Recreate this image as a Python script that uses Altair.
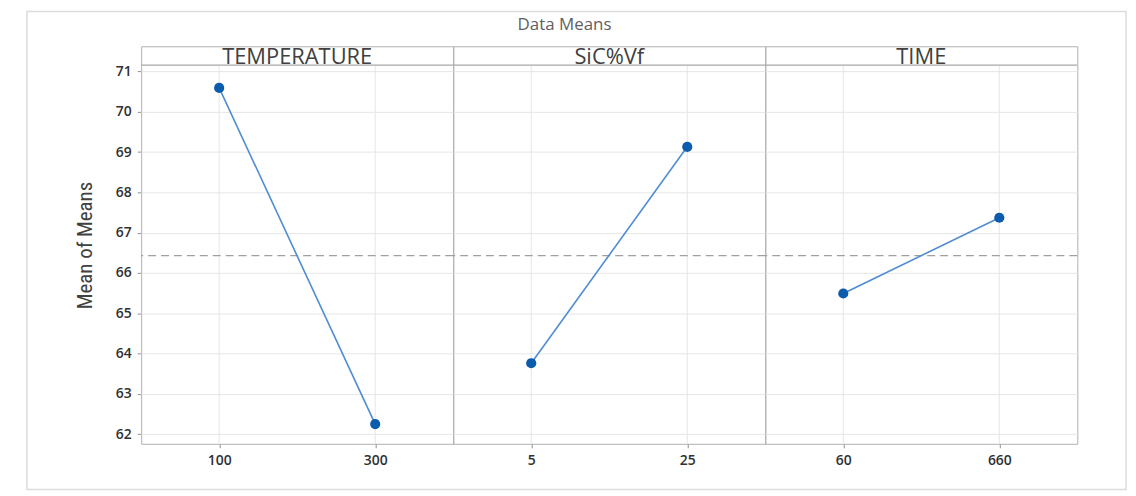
import altair as alt
import pandas as pd

# ---- data ----
factors = ["TEMPERATURE", "SiC%Vf", "TIME"]
levels = [["100", "300"], ["5", "25"], ["60", "660"]]
means = [[70.59, 62.25], [63.76, 69.13], [65.49, 67.37]]
y_ticks = [62, 63, 64, 65, 66, 67, 68, 69, 70, 71]

rows = []
for f, lv, mv in zip(factors, levels, means):
    for i, (l, m) in enumerate(zip(lv, mv)):
        rows.append({"factor": f, "level": l, "mean": m, "first": i == 0})
df = pd.DataFrame(rows)
df["grand"] = df["mean"].mean()
df["frame"] = (df["factor"] == factors[0]) & df["first"]

level_order = [l for lv in levels for l in lv]

Y_MIN, Y_MAX = 61.761, 71.624
HEAD_LINE = 71.155
HEAD_TEXT = 71.18
W, H = 314, 400

yscale = alt.Scale(domain=[Y_MIN, Y_MAX], nice=False, zero=False)
y_axis = alt.Axis(
    title="Mean of Means", values=y_ticks, grid=True, gridColor="#e6e6e6",
    domain=False, tickSize=4, tickColor="#909090",
    labelFont="Open Sans", labelFontSize=14, labelFontWeight=600, labelColor="#303030",
    labelPadding=6,
    titleFont="Roboto Condensed, DejaVu Sans Condensed, Roboto", titleFontSize=21,
    titleFontWeight="normal", titleColor="#404040", titlePadding=20,
)
x_enc = alt.X(
    "level:N", sort=level_order, scale=alt.Scale(type="point", padding=0.5),
    axis=alt.Axis(
        title=None, labelAngle=0, grid=False, domain=False, tickSize=4,
        tickColor="#909090", labelFont="Open Sans", labelFontSize=14,
        labelFontWeight=600, labelColor="#303030", labelPadding=6,
    ),
)

base = alt.Chart()

vgrid = base.mark_rule(color="#e6e6e6", strokeWidth=1).encode(
    x=x_enc,
    y=alt.YDatum(Y_MIN, scale=yscale, axis=y_axis),
    y2=alt.datum(HEAD_LINE),
)

ref = base.mark_rule(color="#a0a0a0", strokeDash=[8, 5], strokeWidth=1.3).encode(
    y=alt.Y("grand:Q", scale=yscale, axis=y_axis)
).transform_filter("datum.first")

line = base.mark_line(color="#4f8cd2", strokeWidth=1.6).encode(
    x=x_enc, y=alt.Y("mean:Q", scale=yscale, axis=y_axis)
)

pts = base.mark_circle(color="#0b5cad", size=105, opacity=1).encode(
    x=x_enc, y=alt.Y("mean:Q", scale=yscale, axis=y_axis)
)

htext = base.mark_text(
    font="Open Sans", fontSize=22, color="#404040", baseline="alphabetic"
).encode(
    y=alt.YDatum(HEAD_TEXT, scale=yscale, axis=y_axis), text="factor:N"
).transform_filter("datum.first")

hline = base.mark_rule(color="#a8a8a8", strokeWidth=1.2).encode(
    y=alt.YDatum(HEAD_LINE, scale=yscale, axis=y_axis)
).transform_filter("datum.first")

frame = base.mark_rect(fill="transparent", stroke="#dcdcdc", strokeWidth=1.5).encode(
    x=alt.value(-115), x2=alt.value(991), y=alt.value(-35), y2=alt.value(446)
).transform_filter("datum.frame")

layered = alt.layer(vgrid, ref, line, pts, htext, hline, frame, data=df).properties(
    width=W, height=H
)

chart = (
    layered.facet(
        column=alt.Column("factor:N", sort=factors, header=alt.Header(labels=False, title=None)),
        spacing=0,
    )
    .resolve_scale(x="independent")
    .properties(
        title=alt.TitleParams(
            "Data Means", font="Open Sans", fontSize=17, fontWeight="normal",
            color="#5f5f5f", anchor="middle", offset=-24, dx=-12,
        ),
        padding={"left": 17, "top": 0, "right": 0, "bottom": 0},
        bounds="flush",
    )
    .configure_view(stroke="#b0b0b0", strokeWidth=1)
)

chart.save("out.html", embed_options={"renderer": "svg", "actions": False})
